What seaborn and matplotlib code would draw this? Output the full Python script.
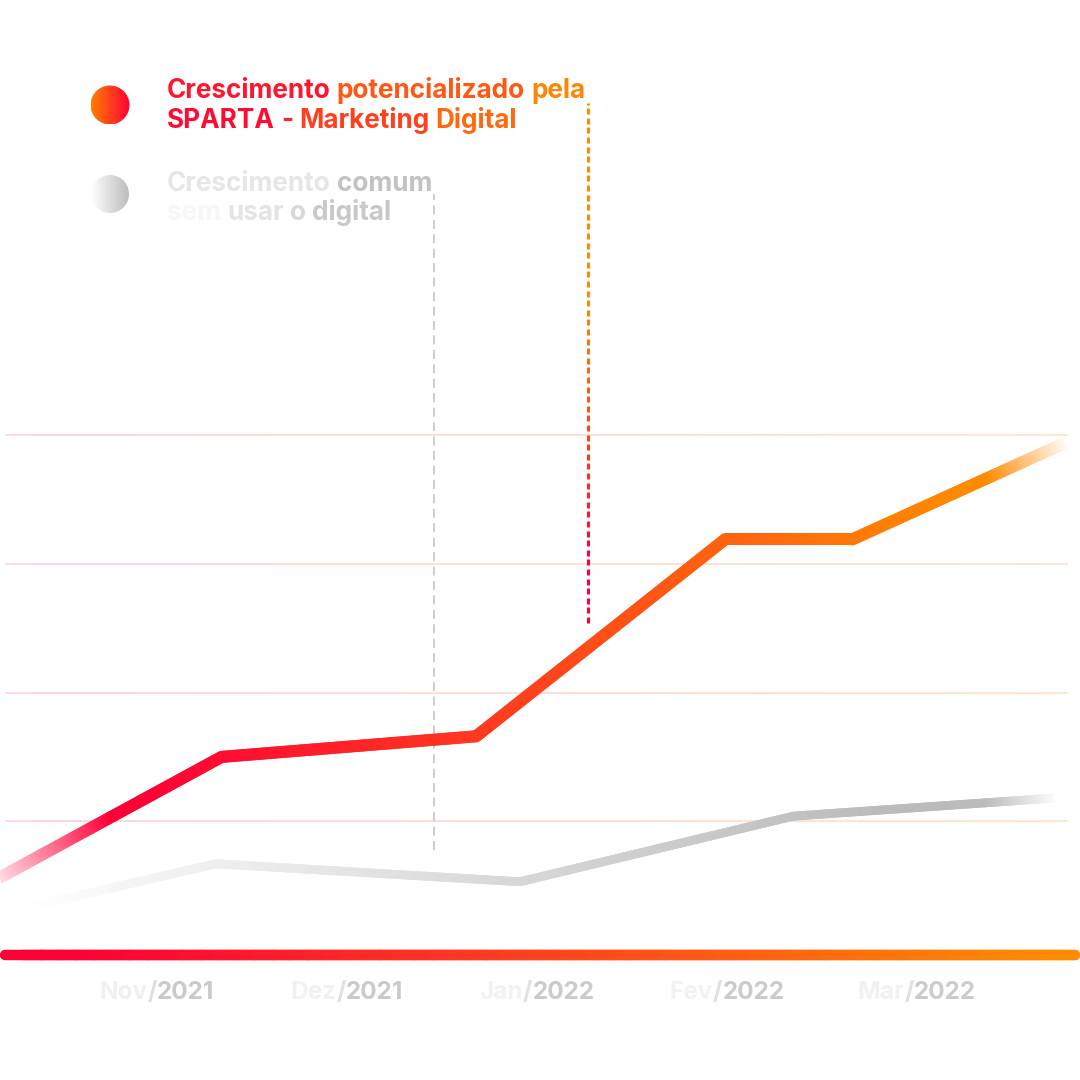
import numpy as np
import matplotlib
matplotlib.use("Agg")
import matplotlib.pyplot as plt
import seaborn as sns
from matplotlib.collections import LineCollection
from matplotlib.colors import to_rgb
from matplotlib.patches import Circle

# ---------- dados (x em "meses": 0 = Nov/2021)
meses = ["Nov/2021", "Dez/2021", "Jan/2022", "Fev/2022", "Mar/2022"]
sparta_x = [-0.83, 0.34, 1.68, 2.99, 3.66, 4.78]
sparta_y = [5.6, 15.0, 16.6, 31.9, 31.9, 39.4]
comum_x = [-0.80, 0.31, 1.91, 3.35, 4.72]
comum_y = [2.9, 6.7, 5.3, 10.4, 11.8]
grade_y = [10, 20, 30, 40]
base_y = -0.4

# marcadores tracejados (x, y inicial, y final)
marca_comum = (1.46, 7.8, 58.7)
marca_sparta = (2.27, 25.4, 65.8)

legenda_sparta = ["Crescimento potencializado pela", "SPARTA - Marketing Digital"]
legenda_comum = ["Crescimento comum", "sem usar o digital"]

VERMELHO = "#ff0036"
LARANJA = "#ff8a00"

# escala: pixel = (x - X0) * PX
X0, PX = -0.826, 190.0
XLIM = (X0, X0 + 1080 / PX)
YLIM = (-10.1, 73.8)
PY = 1080 / (YLIM[1] - YLIM[0])

sns.set_theme(style="white")
plt.rcParams["font.family"] = ["Inter", "DejaVu Sans"]

fig = plt.figure(figsize=(10.8, 10.8), dpi=100)
fig.patch.set_facecolor("white")
ax = fig.add_axes([0, 0, 1, 1])
ax.set_xlim(*XLIM)
ax.set_ylim(*YLIM)
ax.axis("off")


def mistura(c0, c1, f):
    a, b = np.array(to_rgb(c0)), np.array(to_rgb(c1))
    return tuple(a + (b - a) * f)


def linha_gradiente(ax, xs, ys, c0, c1, px0, px1, lw, ini=None, fim=None,
                    cap="butt", n=80, z=3):
    xs = np.asarray(xs, float)
    ys = np.asarray(ys, float)
    pts = []
    for i in range(len(xs) - 1):
        t = np.linspace(0, 1, n, endpoint=False)
        pts.append(np.column_stack([xs[i] + t * (xs[i + 1] - xs[i]),
                                    ys[i] + t * (ys[i + 1] - ys[i])]))
    pts.append([[xs[-1], ys[-1]]])
    pts = np.vstack(pts)
    segs = [pts[j:j + 3] for j in range(len(pts) - 1)]
    meio = (0.5 * (pts[:-1, 0] + pts[1:, 0]) - X0) * PX
    cmap = sns.blend_palette([c0, c1], as_cmap=True)
    cores = cmap(np.clip((meio - px0) / (px1 - px0), 0, 1))[:, :3]
    alfa = np.ones(len(meio))
    if ini:
        a, b, a0 = ini
        alfa *= a0 + (1 - a0) * np.clip((meio - a) / (b - a), 0, 1)
    if fim:
        a, b, a0 = fim
        alfa *= a0 + (1 - a0) * np.clip((b - meio) / (b - a), 0, 1)
    # mistura com o fundo branco em vez de transparência (sem emendas)
    cores = cores * alfa[:, None] + (1 - alfa[:, None])
    lc = LineCollection(segs, colors=cores, linewidths=lw, capstyle=cap,
                        joinstyle="miter", zorder=z)
    ax.add_collection(lc)


# grade horizontal
for g in grade_y:
    linha_gradiente(ax, [X0 + 5 / PX, X0 + 1068 / PX], [g, g], "#ffd6dc", "#ffe6d0",
                    0, 1070, 1.2, n=40, z=1)

# linha de base
linha_gradiente(ax, [X0 + 5 / PX, X0 + 1075 / PX], [base_y, base_y], VERMELHO, "#ff8c00",
                80, 1060, 7.5, cap="round", n=60, z=2)

# marcador tracejado cinza
ax.plot([marca_comum[0]] * 2, marca_comum[1:], color="#c9c9c9", lw=1.3,
        ls=(0, (5, 3)), zorder=2)

# marcador tracejado degradê (laranja em cima, vermelho embaixo)
mx, my0, my1 = marca_sparta
traco, vao = 6 / PY, 3.6 / PY
ini_tr = np.arange(my0, my1, traco + vao)
segs = [[(mx, y), (mx, min(y + traco, my1))] for y in ini_tr]
cores_tr = []
for y in ini_tr:
    py = (YLIM[1] - (y + traco / 2)) * PY
    cores_tr.append(mistura(LARANJA, VERMELHO, np.clip((py - 300) / 260, 0, 1)))
ax.add_collection(LineCollection(segs, colors=cores_tr, linewidths=2.2, zorder=2))

# linhas principais
linha_gradiente(ax, comum_x, comum_y, "#ffffff", "#bbbbbb", 0, 880, 6.3,
                ini=(0, 120, 0.3), fim=(985, 1058, 0.0), z=3)
linha_gradiente(ax, sparta_x, sparta_y, VERMELHO, LARANJA, 140, 960, 8.6,
                ini=(0, 110, 0.15), fim=(985, 1068, 0.0), z=4)

# ---------- camada de textos em pixels
ax2 = fig.add_axes([0, 0, 1, 1], zorder=5)
ax2.patch.set_alpha(0)
ax2.axis("off")
renderer = fig.canvas.get_renderer()


def largura(s, **kw):
    t = ax2.text(0, 0, s, **kw)
    w = t.get_window_extent(renderer).width
    t.remove()
    return w


def texto_gradiente(x, y, pecas, sep, c0, c1, x0, x1, centro=False, **kw):
    total = largura(sep.join(pecas), **kw)
    if centro:
        x = x - total / 2
    if x1 is None:
        x0, x1 = x, x + total
    for i, p in enumerate(pecas):
        wp = largura(p, **kw)
        off = largura(sep.join(pecas[:i + 1]), **kw) - wp
        f = np.clip((x + off + wp / 2 - x0) / (x1 - x0), 0, 1)
        ax2.text(x + off, y, p, color=mistura(c0, c1, f), ha="left",
                 va="baseline", **kw)


def circulo_gradiente(cx, cy, r, c0, c1):
    cmap = sns.blend_palette([c0, c1], as_cmap=True)
    im = ax2.imshow(np.linspace(0, 1, 256)[None, :], cmap=cmap, aspect="auto",
                    extent=[cx - r, cx + r, cy + r, cy - r], interpolation="bilinear")
    circ = Circle((cx, cy), r, facecolor="none", edgecolor="none")
    ax2.add_patch(circ)
    im.set_clip_path(circ)


fonte_leg = dict(fontsize=18.8, fontweight="bold")
fonte_mes = dict(fontsize=17.5, fontweight="bold")

circulo_gradiente(110, 105, 19.5, "#ff7e00", VERMELHO)
circulo_gradiente(110, 194, 19, "#ffffff", "#bcbcbc")

texto_gradiente(167, 98, legenda_sparta[0].split(" "), " ", VERMELHO, LARANJA, 190, 570, **fonte_leg)
texto_gradiente(167, 128, legenda_sparta[1].split(" "), " ", VERMELHO, LARANJA, 190, 570, **fonte_leg)
texto_gradiente(167, 191, legenda_comum[0].split(" "), " ", "#ffffff", "#c2c2c2", 167, 370, **fonte_leg)
texto_gradiente(167, 220, legenda_comum[1].split(" "), " ", "#ffffff", "#c2c2c2", 167, 370, **fonte_leg)

for i, m in enumerate(meses):
    mes, ano = m.split("/")
    texto_gradiente((i - X0) * PX, 999, [mes, "/", ano], "", "#ffffff", "#b8b8b8",
                    None, None, centro=True, **fonte_mes)

ax2.set_xlim(0, 1080)
ax2.set_ylim(1080, 0)

fig.savefig("out.png", dpi=100, facecolor="white")
